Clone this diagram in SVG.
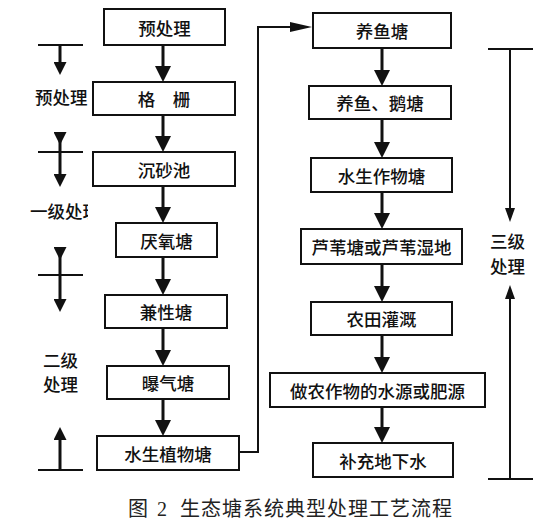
<svg xmlns="http://www.w3.org/2000/svg" width="551" height="524" viewBox="0 0 551 524">
<style>
.box{fill:#fff;stroke:#111;stroke-width:2}
.t{font-family:"Noto Sans CJK SC","Noto Sans",sans-serif;font-size:17.5px;font-weight:500;fill:#111;text-anchor:middle;dominant-baseline:central}
.ann{font-family:"Noto Sans CJK SC","Noto Sans",sans-serif;font-size:17.5px;font-weight:500;fill:#111}
.flow{stroke:#111;stroke-width:3;fill:none}
.side{stroke:#111;stroke-width:3;fill:none}
.thin{stroke:#111;stroke-width:2;fill:none}
.cap{font-family:"Liberation Serif","Noto Sans CJK SC",serif;font-size:20px;fill:#222}
</style>
<defs>
<marker id="ah" markerUnits="userSpaceOnUse" markerWidth="16" markerHeight="16" refX="0" refY="8" orient="auto">
<path d="M0,0 L16,8 L0,16 z" fill="#111"/>
</marker>
<marker id="as" markerUnits="userSpaceOnUse" markerWidth="13" markerHeight="13" refX="0" refY="6.5" orient="auto">
<path d="M0,0 L13,6.5 L0,13 z" fill="#111"/>
</marker>
<marker id="at" markerUnits="userSpaceOnUse" markerWidth="14" markerHeight="10" refX="0" refY="5" orient="auto">
<path d="M0,0 L14,5 L0,10 z" fill="#111"/>
</marker>
<marker id="al" markerUnits="userSpaceOnUse" markerWidth="22" markerHeight="10" refX="0" refY="5" orient="auto">
<path d="M0,0 L22,5 L0,10 z" fill="#111"/>
</marker>
<clipPath id="clipL"><rect x="0" y="0" width="88" height="524"/></clipPath>
</defs>
<rect width="551" height="524" fill="#fff"/>

<g id="connectors">
<line class="flow" x1="163" y1="45" x2="163" y2="66" marker-end="url(#ah)"/>
<line class="flow" x1="163" y1="115" x2="163" y2="136" marker-end="url(#ah)"/>
<line class="flow" x1="163" y1="186" x2="163" y2="207" marker-end="url(#ah)"/>
<line class="flow" x1="163" y1="257" x2="163" y2="279" marker-end="url(#ah)"/>
<line class="flow" x1="163" y1="328" x2="163" y2="350" marker-end="url(#ah)"/>
<line class="flow" x1="163" y1="399" x2="163" y2="420" marker-end="url(#ah)"/>
<line class="flow" x1="382" y1="48" x2="382" y2="70" marker-end="url(#ah)"/>
<line class="flow" x1="382" y1="119" x2="382" y2="142" marker-end="url(#ah)"/>
<line class="flow" x1="382" y1="192" x2="382" y2="213" marker-end="url(#ah)"/>
<line class="flow" x1="382" y1="264" x2="382" y2="286" marker-end="url(#ah)"/>
<line class="flow" x1="382" y1="335" x2="382" y2="357" marker-end="url(#ah)"/>
<line class="flow" x1="382" y1="407" x2="382" y2="427" marker-end="url(#ah)"/>
<polyline class="thin" points="239,452 258,452 258,27 290,27" marker-end="url(#al)"/>
</g>

<g id="annotations">
<line class="thin" x1="38" y1="45" x2="83" y2="45"/>
<line class="side" x1="60" y1="45" x2="60" y2="62" marker-end="url(#as)"/>
<line class="thin" x1="38" y1="152" x2="83" y2="152"/>
<line class="side" x1="60" y1="132" x2="60" y2="174" marker-start="url(#as)" marker-end="url(#as)"/>
<line class="thin" x1="38" y1="275" x2="83" y2="275"/>
<line class="side" x1="60" y1="247" x2="60" y2="299" marker-start="url(#as)" marker-end="url(#as)"/>
<line class="thin" x1="38" y1="470" x2="83" y2="470"/>
<line class="side" x1="60" y1="470" x2="60" y2="440" marker-end="url(#as)"/>
<text class="ann" x="35" y="104">预处理</text>
<text class="ann" x="30" y="218" clip-path="url(#clipL)">一级处理</text>
<text class="ann" x="43" y="367">二级</text>
<text class="ann" x="43" y="391">处理</text>
<line class="thin" x1="488" y1="49" x2="533" y2="49"/>
<line class="thin" x1="510" y1="49" x2="510" y2="208" marker-end="url(#at)"/>
<line class="thin" x1="488" y1="479" x2="533" y2="479"/>
<line class="thin" x1="510" y1="479" x2="510" y2="299" marker-end="url(#at)"/>
<text class="ann" x="490" y="248">三级</text>
<text class="ann" x="490" y="273">处理</text>
</g>

<g id="n1"><rect class="box" x="104" y="9" width="121" height="36"/><text class="t" x="164.5" y="27">预处理</text></g>
<g id="n2"><rect class="box" x="93" y="82" width="142" height="33"/><text class="t" x="164" y="98.5">格　栅</text></g>
<g id="n3"><rect class="box" x="93" y="152" width="142" height="34"/><text class="t" x="164" y="169">沉砂池</text></g>
<g id="n4"><rect class="box" x="116" y="223" width="101" height="34"/><text class="t" x="166.5" y="240">厌氧塘</text></g>
<g id="n5"><rect class="box" x="105" y="295" width="122" height="33"/><text class="t" x="166" y="311.5">兼性塘</text></g>
<g id="n6"><rect class="box" x="107" y="366" width="122" height="33"/><text class="t" x="168" y="382.5">曝气塘</text></g>
<g id="n7"><rect class="box" x="97" y="436" width="142" height="34"/><text class="t" x="168" y="453">水生植物塘</text></g>

<g id="r1"><rect class="box" x="313" y="13" width="138" height="35"/><text class="t" x="382" y="30.5">养鱼塘</text></g>
<g id="r2"><rect class="box" x="309" y="86" width="142" height="33"/><text class="t" x="380" y="102.5">养鱼、鹅塘</text></g>
<g id="r3"><rect class="box" x="311" y="158" width="141" height="34"/><text class="t" x="381.5" y="175">水生作物塘</text></g>
<g id="r4"><rect class="box" x="301" y="229" width="161" height="35"/><text class="t" x="381.5" y="246.5">芦苇塘或芦苇湿地</text></g>
<g id="r5"><rect class="box" x="311" y="302" width="141" height="33"/><text class="t" x="381.5" y="318.5">农田灌溉</text></g>
<g id="r6"><rect class="box" x="270" y="373" width="215" height="34"/><text class="t" x="377.5" y="390">做农作物的水源或肥源</text></g>
<g id="r7"><rect class="box" x="313" y="443" width="140" height="34"/><text class="t" x="383" y="460">补充地下水</text></g>

<text class="cap" y="516"><tspan x="128">图</tspan><tspan x="157">2</tspan><tspan x="180" letter-spacing="1">生态塘系统典型处理工艺流程</tspan></text>
</svg>
